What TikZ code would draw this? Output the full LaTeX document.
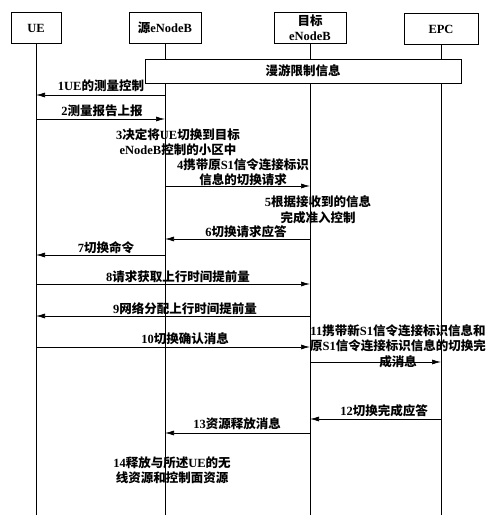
\documentclass[tikz,border=0pt]{standalone}
\usepackage{fontspec}
\setmainfont{Liberation Serif}
\newfontfamily\cjk{Noto Sans CJK SC}
\newcommand\zh[1]{{\cjk #1}}
\usetikzlibrary{arrows.meta}
\begin{document}
\begin{tikzpicture}[x=1pt,y=-1pt,
  every node/.style={font=\fontsize{12.5}{15.5}\selectfont\bfseries},
  ent/.style={draw,line width=0.7pt,minimum height=31pt,inner sep=0pt,fill=white,align=center},
  life/.style={line width=0.7pt},
  msg/.style={line width=0.7pt,-{Latex[length=9pt,width=5pt]}},
  lbl/.style={inner sep=0pt,align=center}]
\useasboundingbox (0,0) rectangle (500,527);
% entities
\node[ent,minimum width=50pt] (ue) at (36,28) {UE};
\node[ent,minimum width=72pt] (src) at (165,28) {\zh{源}eNodeB};
\node[ent,minimum width=72pt,font=\fontsize{12.5}{15}\selectfont\bfseries] (tgt) at (310,28) {\zh{目标}\\eNodeB};
\node[ent,minimum width=74pt] (epc) at (441,29) {EPC};
% lifeline ends
\coordinate (ueE) at (36,515);
\coordinate (srcE) at (165,515);
\coordinate (tgtE) at (310,515);
\coordinate (epcE) at (441,515);
\draw[life] (ue.south) -- (ueE);
\draw[life] (src.south) -- (srcE);
\draw[life] (tgt.south) -- (tgtE);
\draw[life] (epc.south) -- (epcE);
% roaming box
\node[ent,minimum width=316pt,minimum height=24pt] (roam) at (303,71) {\zh{漫游限制信息}};
% messages
\draw[msg] (src |- 0,95) -- (ue |- 0,95);
\node[lbl] (l1) at (101,86) {1UE\zh{的测量控制}};
\draw[msg] (ue |- 0,119) -- (src |- 0,119);
\node[lbl] (l2) at (102,111) {2\zh{测量报告上报}};
\node[lbl] (l3) at (178,142) {3\zh{决定将}UE\zh{切换到目标}\\eNodeB\zh{控制的小区中}};
\node[lbl] (l4) at (243,172) {4\zh{携带原}S1\zh{信令连接标识}\\\zh{信息的切换请求}};
\draw[msg] (src |- 0,186) -- (tgt |- 0,186);
\node[lbl] (l5) at (318,210) {5\zh{根据接收到的信息}\\\zh{完成准入控制}};
\draw[msg] (tgt |- 0,239) -- (src |- 0,239);
\node[lbl] (l6) at (246,232) {6\zh{切换请求应答}};
\draw[msg] (src |- 0,255) -- (ue |- 0,255);
\node[lbl] (l7) at (106,248) {7\zh{切换命令}};
\draw[msg] (ue |- 0,284) -- (tgt |- 0,284);
\node[lbl] (l8) at (178,277) {8\zh{请求获取上行时间提前量}};
\draw[msg] (tgt |- 0,316) -- (ue |- 0,316);
\node[lbl] (l9) at (185,309) {9\zh{网络分配上行时间提前量}};
\draw[msg] (ue |- 0,347) -- (tgt |- 0,347);
\node[lbl] (l10) at (185,339) {10\zh{切换确认消息}};
\draw[msg] (tgt |- 0,362) -- (epc |- 0,362);
\node[lbl] (l11) at (398,346) {11\zh{携带新}S1\zh{信令连接标识信息和}\\\zh{原}S1\zh{信令连接标识信息的切换完}\\\zh{成消息}};
\draw[msg] (epc |- 0,419) -- (tgt |- 0,419);
\node[lbl] (l12) at (384,411) {12\zh{切换完成应答}};
\draw[msg] (tgt |- 0,433) -- (src |- 0,433);
\node[lbl] (l13) at (237,424) {13\zh{资源释放消息}};
\node[lbl] (l14) at (172,470) {14\zh{释放与所述}UE\zh{的无}\\\zh{线资源和控制面资源}};
\end{tikzpicture}
\end{document}
